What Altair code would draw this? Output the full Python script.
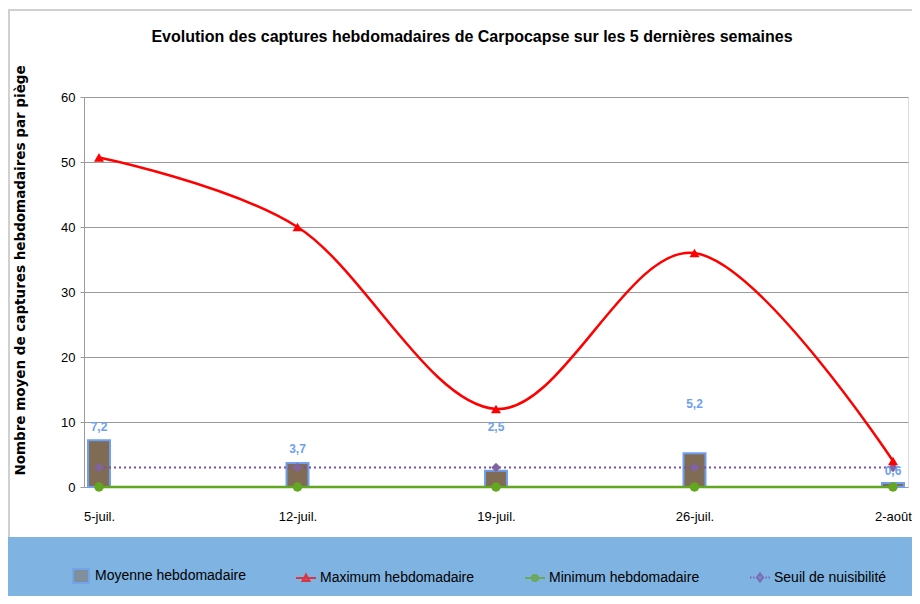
import altair as alt
import pandas as pd

dates = ["5-juil.", "12-juil.", "19-juil.", "26-juil.", "2-août"]
moyenne = [7.2, 3.7, 2.5, 5.2, 0.6]
maximum = [50.7, 40.0, 12.0, 36.0, 4.0]
minimum = [0, 0, 0, 0, 0]
seuil = [3, 3, 3, 3, 3]
moyenne_labels = ["7,2", "3,7", "2,5", "5,2", "0,6"]
label_anchor = [9.3, 5.8, 9.2, 12.8, 2.5]

series_names = ["Moyenne hebdomadaire", "Maximum hebdomadaire", "Minimum hebdomadaire", "Seuil de nuisibilité"]
title_text = "Evolution des captures hebdomadaires de Carpocapse sur les 5 dernières semaines"

df = pd.DataFrame({
    "date": dates, "moyenne": moyenne, "maximum": maximum,
    "minimum": minimum, "seuil": seuil, "label": moyenne_labels, "label_y": label_anchor,
})

FONT = "'Liberation Sans', Arial, sans-serif"
RED = "#ff0000"
GREEN = "#63a61f"
PURPLE = "#7a4fa8"
DIAMOND = "#8064a2"
BROWN = "#806b55"
BARBLUE = "#6e9ff0"
LABELBLUE = "#6e9ff0"

x_enc = alt.X(
    "date:O", sort=dates, title=None,
    scale=alt.Scale(type="point", padding=0.0756),
    axis=alt.Axis(labelAngle=0, ticks=False, domain=False, labelPadding=23,
                  labelFont=FONT, labelFontSize=13, labelColor="#000000", grid=False),
)

def y_enc(field):
    return alt.Y(
        f"{field}:Q",
        scale=alt.Scale(domain=[0, 60], nice=False),
        title="Nombre moyen de captures hebdomadaires  par piège",
        axis=alt.Axis(values=[0, 10, 20, 30, 40, 50, 60], grid=True, gridColor="#9a9a9a",
                      gridWidth=1, domainColor="#9a9a9a", tickColor="#9a9a9a", tickSize=4,
                      labelFont=FONT, labelFontSize=13, labelColor="#000000", labelPadding=5,
                      titleFont="DejaVu Sans", titleFontSize=13.5, titleFontWeight="bold",
                      titleColor="#000000", titleX=-64, titleY=173, titleAngle=-90,
                      titleAlign="center", titleBaseline="middle"),
    )

base = alt.Chart(df)
one = pd.DataFrame({"k": [0]})

band = alt.Chart(one).mark_rect(color="#7fb3e1").encode(
    x=alt.value(-76), x2=alt.value(830), y=alt.value(440), y2=alt.value(500)
)
border_left = alt.Chart(one).mark_rule(color="#d0d0d0", strokeWidth=2).encode(
    x=alt.value(-75), y=alt.value(-87), y2=alt.value(440)
)
border_top = alt.Chart(one).mark_rule(color="#d0d0d0", strokeWidth=2).encode(
    x=alt.value(-76), x2=alt.value(830), y=alt.value(-87)
)
title = alt.Chart(pd.DataFrame({"t": [title_text]})).mark_text(
    font=FONT, fontSize=16, fontWeight="bold", color="#000000", align="center", baseline="middle"
).encode(x=alt.value(388), y=alt.value(-60), text="t:N")

bars = base.mark_bar(size=22, color=BROWN, stroke=BARBLUE, strokeWidth=2).encode(
    x=x_enc, y=y_enc("moyenne")
)
seuil_line = base.mark_line(color=PURPLE, strokeWidth=2, strokeDash=[2, 3]).encode(
    x=x_enc, y=y_enc("seuil")
)
seuil_pts = base.mark_point(shape="diamond", filled=True, color=DIAMOND, size=90, opacity=1).encode(
    x=x_enc, y=y_enc("seuil")
)
min_line = base.mark_line(color=GREEN, strokeWidth=2.5).encode(x=x_enc, y=y_enc("minimum"))
min_pts = base.mark_point(shape="circle", filled=True, color=GREEN, size=90, opacity=1).encode(
    x=x_enc, y=y_enc("minimum")
)
max_line = base.mark_line(color=RED, strokeWidth=2.5, interpolate="cardinal", tension=0).encode(
    x=x_enc, y=y_enc("maximum")
)
max_pts = base.mark_point(shape="triangle-up", filled=True, color=RED, size=100, opacity=1).encode(
    x=x_enc, y=y_enc("maximum")
)
labels = base.mark_text(font=FONT, fontSize=12, fontWeight="bold", color=LABELBLUE, baseline="middle").encode(
    x=x_enc, y=y_enc("label_y"), text="label:N"
)

shape_paths = [
    "M-0.8,-0.7H0.8V0.7H-0.8Z",
    "M-1,0H1M-0.35,0.3L0,-0.35L0.35,0.3Z",
    "M-1,0H1M-0.3,0A0.3,0.3 0 1,0 0.3,0A0.3,0.3 0 1,0 -0.3,0Z",
    "M-1,0H-0.85M-0.7,0H-0.55M-0.4,0H-0.25M0.25,0H0.4M0.55,0H0.7M0.85,0H1M0,-0.4L0.3,0L0,0.4L-0.3,0Z",
]

def leg():
    return alt.Legend(title=None, orient="none", legendX=-14, legendY=468,
                      direction="horizontal", columns=4, columnPadding=46,
                      symbolSize=400, symbolStrokeWidth=2, labelFont=FONT,
                      labelFontSize=14, labelColor="#000000", labelLimit=0, labelOffset=3)

legend_layer = alt.Chart(pd.DataFrame({"series": series_names})).transform_filter("false").mark_point(
    filled=True, strokeWidth=2
).encode(
    fill=alt.Fill("series:N", scale=alt.Scale(domain=series_names, range=[BROWN, RED, GREEN, DIAMOND]), legend=leg()),
    stroke=alt.Stroke("series:N", scale=alt.Scale(domain=series_names, range=[BARBLUE, RED, GREEN, PURPLE]), legend=leg()),
    shape=alt.Shape("series:N", scale=alt.Scale(domain=series_names, range=shape_paths), legend=leg()),
)

chart = alt.layer(
    band, border_left, border_top, title, bars, seuil_line, seuil_pts, min_line, min_pts,
    max_line, max_pts, labels, legend_layer
).properties(
    width=824, height=390,
    autosize=alt.AutoSizeParams(type="none"),
    padding={"left": 76, "top": 89, "right": 4, "bottom": 109},
).configure_view(stroke=None).configure(background="white")

chart.save("out.html", embed_options={"renderer": "svg", "actions": False})
